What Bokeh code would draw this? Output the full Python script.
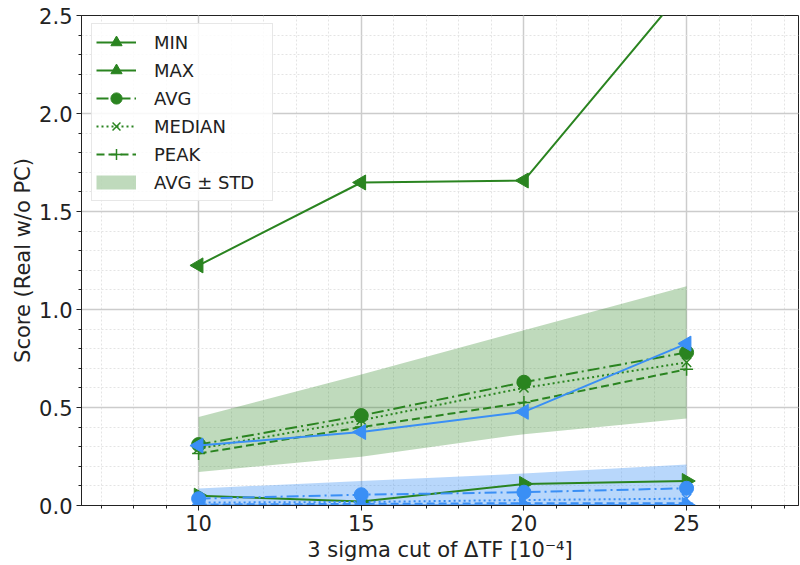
import math
from bokeh.plotting import figure
from bokeh.models import (ColumnDataSource, FixedTicker, SingleIntervalTicker,
                          Legend, LegendItem, NumeralTickFormatter)
from bokeh.embed import file_html
from bokeh.resources import INLINE

# Threshold values (units of 1e-4)
cuts = [10, 15, 20, 25]

# Real sample (green)
real_min = [0.05, 0.02, 0.11, 0.125]
real_max = [1.225, 1.648, 1.658, 2.65]
real_avg = [0.311, 0.459, 0.629, 0.781]
real_median = [0.29, 0.435, 0.60, 0.73]
real_peak = [0.265, 0.40, 0.525, 0.695]
real_std = [0.14, 0.21, 0.265, 0.337]

# Comparison sample (blue)
comp_min = [0.0, 0.0, 0.001, 0.002]
comp_max = [0.306, 0.375, 0.478, 0.826]
comp_avg = [0.035, 0.055, 0.068, 0.088]
comp_median = [0.015, 0.018, 0.028, 0.035]
comp_peak = [0.005, 0.008, 0.012, 0.012]
comp_std = [0.052, 0.07, 0.095, 0.121]

GREEN = "#2a8420"
BLUE = "#3a8ff5"
FONT = "DejaVu Sans"

p = figure(width=800, height=565, x_range=(6.4, 28.44), y_range=(0, 2.5),
           output_backend="svg", toolbar_location=None,
           min_border_left=81, min_border_right=2, min_border_top=15,
           min_border_bottom=60)

p.background_fill_color = "white"
p.border_fill_color = "white"
p.outline_line_color = "#222222"
p.outline_line_width = 1

# axes and ticks
p.xaxis.ticker = FixedTicker(ticks=[10, 15, 20, 25],
                             minor_ticks=list(range(7, 29)))
p.yaxis.ticker = SingleIntervalTicker(interval=0.5, num_minor_ticks=5)
p.yaxis.formatter = NumeralTickFormatter(format="0.0")

for ax in (p.xaxis[0], p.yaxis[0]):
    ax.major_label_text_font = FONT
    ax.major_label_text_font_size = "21px"
    ax.major_label_text_color = "#222222"
    ax.axis_label_text_font = FONT
    ax.axis_label_text_font_size = "21px"
    ax.axis_label_text_font_style = "normal"
    ax.axis_label_text_color = "#222222"
    ax.axis_line_color = "#222222"
    ax.major_tick_line_color = "#222222"
    ax.minor_tick_line_color = "#222222"
    ax.major_tick_out = 5
    ax.major_tick_in = 0
    ax.minor_tick_out = 3
    ax.minor_tick_in = 0
    ax.major_label_standoff = 4

p.xaxis.axis_label = "3 sigma cut of \u0394TF [10\u207b\u2074]"
p.yaxis.axis_label = "Score (Real w/o PC)"
p.xaxis.axis_label_standoff = 4
p.yaxis.axis_label_standoff = 1

# grid
for g in (p.xgrid[0], p.ygrid[0]):
    g.grid_line_color = "#cccccc"
    g.grid_line_width = 1.5
    g.minor_grid_line_color = "#e4e4e4"
    g.minor_grid_line_dash = "2 2"
    g.minor_grid_line_width = 1

p.xgrid.ticker = p.xaxis.ticker
p.ygrid.ticker = p.yaxis.ticker


def make_source(mn, mx, avg, med, peak, std):
    return ColumnDataSource(dict(
        x=cuts, mn=mn, mx=mx, avg=avg, med=med, peak=peak,
        lo=[a - s for a, s in zip(avg, std)],
        hi=[a + s for a, s in zip(avg, std)],
    ))


def add_lines(color, src):
    r = {}
    r["min_l"] = p.line("x", "mn", source=src, color=color, line_width=2)
    r["min_m"] = p.scatter("x", "mn", source=src, marker="triangle",
                           angle=-math.pi / 2, size=15, color=color)
    r["max_l"] = p.line("x", "mx", source=src, color=color, line_width=2)
    r["max_m"] = p.scatter("x", "mx", source=src, marker="triangle",
                           angle=math.pi / 2, size=15, color=color)
    r["avg_l"] = p.line("x", "avg", source=src, color=color, line_width=2,
                        line_dash="12 4 2 4")
    r["avg_m"] = p.scatter("x", "avg", source=src, marker="circle", size=14,
                           color=color)
    r["med_l"] = p.line("x", "med", source=src, color=color, line_width=2,
                        line_dash="2 3")
    r["med_m"] = p.scatter("x", "med", source=src, marker="x", size=13,
                           line_color=color, line_width=1.5)
    r["peak_l"] = p.line("x", "peak", source=src, color=color, line_width=2,
                         line_dash="8 4")
    r["peak_m"] = p.scatter("x", "peak", source=src, marker="cross", size=13,
                            line_color=color, line_width=1.5)
    return r


g_src = make_source(real_min, real_max, real_avg, real_median, real_peak,
                    real_std)
b_src = make_source(comp_min, comp_max, comp_avg, comp_median, comp_peak,
                    comp_std)

# std bands first, then the statistic lines on top
p.varea(x="x", y1="lo", y2="hi", source=g_src, fill_color=GREEN,
        fill_alpha=0.3)
p.varea(x="x", y1="lo", y2="hi", source=b_src, fill_color=BLUE,
        fill_alpha=0.36)
g_r = add_lines(GREEN, g_src)
b_r = add_lines(BLUE, b_src)

# legend swatch for the band: a thick, empty line renderer
band_key = p.line(x=[float("nan")], y=[float("nan")], line_color=GREEN,
                  line_alpha=0.3, line_width=14, line_cap="butt")

legend = Legend(items=[
    LegendItem(label="MIN", renderers=[g_r["min_l"], g_r["min_m"]]),
    LegendItem(label="MAX", renderers=[g_r["max_l"], g_r["max_m"]]),
    LegendItem(label="AVG", renderers=[g_r["avg_l"], g_r["avg_m"]]),
    LegendItem(label="MEDIAN", renderers=[g_r["med_l"], g_r["med_m"]]),
    LegendItem(label="PEAK", renderers=[g_r["peak_l"], g_r["peak_m"]]),
    LegendItem(label="AVG \u00b1 STD", renderers=[band_key]),
], location=(10, 304))
legend.label_text_font = FONT
legend.label_text_font_size = "18px"
legend.label_text_color = "#222222"
legend.glyph_width = 40
legend.glyph_height = 28
legend.label_height = 20
legend.label_standoff = 18
legend.label_width = 114
legend.spacing = 0
legend.padding = 4
legend.margin = 0
legend.border_line_color = "#d0d0d0"
legend.border_line_width = 1
legend.background_fill_alpha = 0.85
p.add_layout(legend)

open("out.html", "w").write(file_html(p, INLINE))
